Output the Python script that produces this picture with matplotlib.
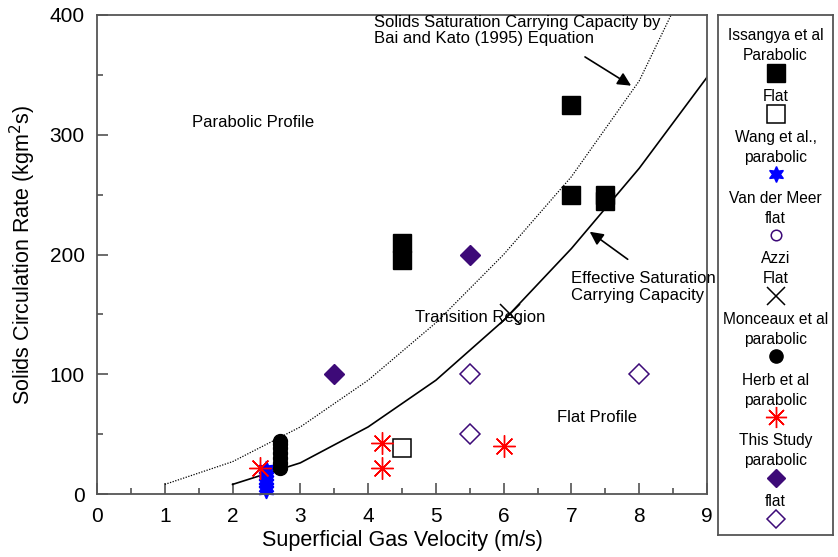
import matplotlib
matplotlib.use("Agg")
import matplotlib.pyplot as plt

plt.rcParams["font.family"] = ["Liberation Sans", "DejaVu Sans"]

# -----------------------------
# Data
# -----------------------------
bai_kato_x = [1, 2, 3, 4, 5, 6, 7, 8, 8.47]
bai_kato_y = [8, 27, 56, 95, 143, 200, 265, 345, 400]

effective_x = [2, 3, 4, 5, 6, 7, 8, 9]
effective_y = [8, 26, 56, 95, 145, 205, 272, 348]

issangya_par_x = [4.5, 4.5, 7, 7, 7.5, 7.5]
issangya_par_y = [210, 195, 325, 250, 250, 245]
issangya_flat_x = [4.5]
issangya_flat_y = [38]

wang_x = [2.5, 2.5, 2.5, 2.5, 2.5, 2.5, 2.5]
wang_y = [3, 6, 9, 12, 15, 18, 21]

vandermeer_x = []
vandermeer_y = []

azzi_x = [6.1]
azzi_y = [150]

monceaux_x = [2.7, 2.7, 2.7, 2.7, 2.7, 2.7, 2.7]
monceaux_y = [22, 26, 30, 34, 38, 42, 44]

herb_x = [2.4, 4.2, 4.2, 6.0]
herb_y = [22, 43, 22, 40]

study_par_x = [3.5, 5.5]
study_par_y = [100, 200]
study_flat_x = [5.5, 5.5, 8.0]
study_flat_y = [100, 50, 100]

purple = "#3d0a78"

# (label, x, y, marker style) for each series
series = [
    ("Issangya et al\nParabolic", issangya_par_x, issangya_par_y,
     dict(marker="s", ms=13, mfc="black", mec="black")),
    ("Flat", issangya_flat_x, issangya_flat_y,
     dict(marker="s", ms=13, mfc="white", mec="black", mew=1.1)),
    ("Wang et al.,\nparabolic", wang_x, wang_y,
     dict(marker=(6, 1, 0), ms=12, mfc="blue", mec="blue")),
    ("Van der Meer\nflat", vandermeer_x, vandermeer_y,
     dict(marker="o", ms=8, mfc="white", mec=purple, mew=1.1)),
    ("Azzi\nFlat", azzi_x, azzi_y,
     dict(marker="x", ms=14, mec="black", mew=1.1)),
    ("Monceaux et al\nparabolic", monceaux_x, monceaux_y,
     dict(marker="o", ms=10, mfc="black", mec="black")),
    ("Herb et al\nparabolic", herb_x, herb_y,
     dict(marker=(8, 2, 0), ms=16, mfc="red", mec="red", mew=1.0)),
    ("This Study\nparabolic", study_par_x, study_par_y,
     dict(marker="D", ms=10, mfc=purple, mec=purple)),
    ("flat", study_flat_x, study_flat_y,
     dict(marker="D", ms=10, mfc="white", mec=purple, mew=1.1)),
]

fig = plt.figure(figsize=(8.38, 5.57), dpi=100)
ax = fig.add_axes([97 / 838, 1 - 494 / 557, 610 / 838, 479 / 557])

# -----------------------------
# Curves and points
# -----------------------------
ax.plot(bai_kato_x, bai_kato_y, color="black", linestyle=(0, (1, 1.2)), linewidth=0.9)
ax.plot(effective_x, effective_y, color="black", linewidth=1.2)

for label, xs, ys, style in series:
    ax.plot(xs, ys, linestyle="none", clip_on=False, **style)

# -----------------------------
# Annotations
# -----------------------------
arrow = dict(arrowstyle="-|>", color="black", lw=1.2, mutation_scale=20,
             shrinkA=0, shrinkB=0)
ax.text(4.09, 387, "Solids Saturation Carrying Capacity by\nBai and Kato (1995) Equation",
        fontsize=12, ha="left", va="center", linespacing=1.05)
ax.annotate("", xy=(7.88, 341), xytext=(7.2, 365), arrowprops=arrow)
ax.annotate("", xy=(7.27, 219), xytext=(7.83, 196), arrowprops=arrow)
ax.text(7.0, 173, "Effective Saturation\nCarrying Capacity", fontsize=12,
        ha="left", va="center", linespacing=1.2)
ax.text(1.4, 310, "Parabolic Profile", fontsize=12, ha="left", va="center")
ax.text(4.69, 147, "Transition Region", fontsize=12, ha="left", va="center")
ax.text(6.78, 64, "Flat Profile", fontsize=12, ha="left", va="center")

# -----------------------------
# Axes
# -----------------------------
ax.set_xlim(0, 9)
ax.set_ylim(0, 400)
ax.set_xticks(range(0, 10))
ax.set_xticks([i + 0.5 for i in range(9)], minor=True)
ax.set_yticks(range(0, 401, 100))
ax.set_yticks(range(50, 400, 100), minor=True)
ax.tick_params(which="major", direction="in", length=8, width=1.1, labelsize=15,
               color="#444444", top=False, right=False)
ax.tick_params(which="minor", direction="in", length=4, width=1.1,
               color="#444444", top=False, right=False)
ax.tick_params(axis="x", pad=9)
ax.tick_params(axis="y", pad=9)
for sp in ax.spines.values():
    sp.set_color("#555555")
    sp.set_linewidth(1.3)
ax.set_xlabel("Superficial Gas Velocity (m/s)", fontsize=15.5, labelpad=3)
ax.set_ylabel("Solids Circulation Rate (kgm$^{2}$s)", fontsize=15.5, labelpad=8)

# -----------------------------
# Legend panel (labels above markers)
# -----------------------------
lax = fig.add_axes([718 / 838, 1 - 535 / 557, 115 / 838, 520 / 557])
lax.set_xlim(0, 1)
lax.set_ylim(535, 15)
lax.set_xticks([])
lax.set_yticks([])
for sp in lax.spines.values():
    sp.set_color("#555555")
    sp.set_linewidth(1.3)

y = 36
for label, xs, ys, style in series:
    lines = label.split("\n")
    for i, line in enumerate(lines):
        lax.text(0.5, y + i * 20, line, ha="center", va="center", fontsize=11.2)
    y += (len(lines) - 1) * 20 + 17
    lax.plot([0.5], [y], linestyle="none", **{**style, "ms": style["ms"] * 0.95})
    y += 23.7

fig.savefig("out.png", dpi=100)
